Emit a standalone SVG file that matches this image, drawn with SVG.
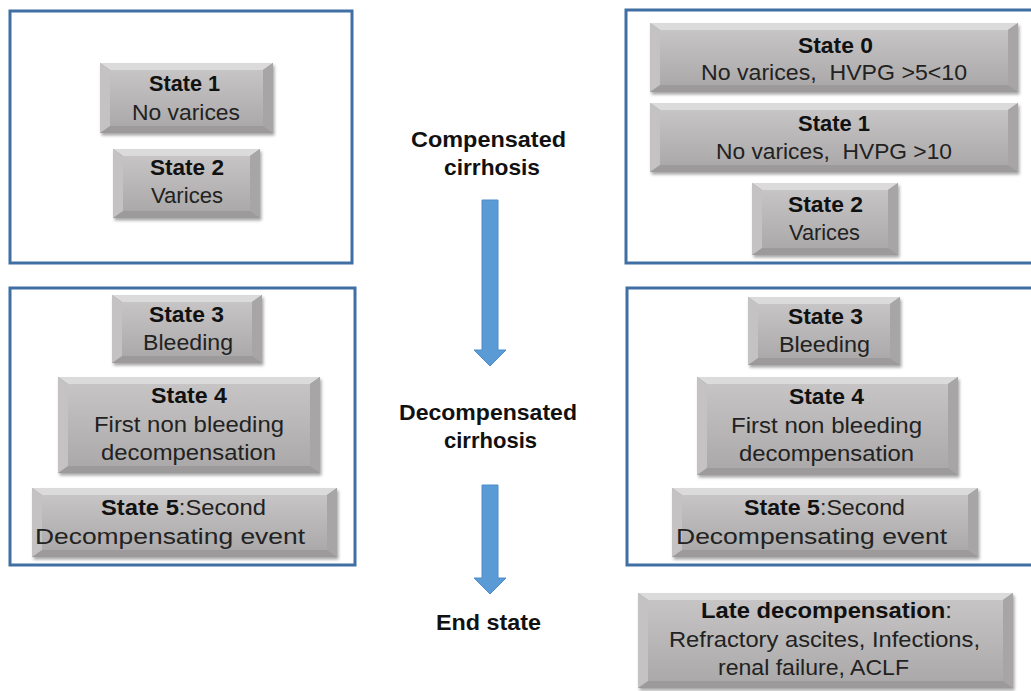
<svg xmlns="http://www.w3.org/2000/svg" width="1031" height="691" viewBox="0 0 1031 691">
<defs>
<linearGradient id="face" x1="0" y1="0" x2="0" y2="1">
<stop offset="0" stop-color="#c6c4c4"/>
<stop offset="1" stop-color="#aba9a9"/>
</linearGradient>
<filter id="sh" x="-10%" y="-20%" width="125%" height="150%">
<feDropShadow dx="1.5" dy="2.5" stdDeviation="1.8" flood-color="#000" flood-opacity="0.35"/>
</filter>
<style>
.frame{fill:none;stroke:#3f6fa3;stroke-width:3}
.base{fill:#9c9a9a}
.bt{fill:#dcdbdb}
.bl{fill:#c4c2c2}
.br{fill:#a7a5a5}
.face{fill:url(#face)}
text{font-family:"Liberation Sans",Arial,sans-serif;font-size:22px;fill:#222222}
.b{font-weight:bold;fill:#111111}
.lab{font-weight:bold;font-size:22px;fill:#111111}
.arrow{fill:#5b9bd5;stroke:#4f8ccb;stroke-width:1}
</style>
</defs>
<rect width="1031" height="691" fill="#ffffff"/>

<g id="frames">
<rect class="frame" x="10" y="11" width="342" height="252"/>
<rect class="frame" x="626" y="10" width="420" height="253"/>
<rect class="frame" x="10" y="288" width="345" height="277"/>
<rect class="frame" x="627" y="288" width="420" height="277"/>
</g>

<g id="connectors">
<polygon class="arrow" points="482,200 498,200 498,350 506,350 490,366 474,350 482,350"/>
<polygon class="arrow" points="482,485 498,485 498,578 506,578 490,594 474,578 482,578"/>
</g>

<g id="labels">
<text class="lab" x="411" y="147" textLength="155" lengthAdjust="spacingAndGlyphs">Compensated</text>
<text class="lab" x="444" y="175" textLength="96" lengthAdjust="spacingAndGlyphs">cirrhosis</text>
<text class="lab" x="399" y="420" textLength="178" lengthAdjust="spacingAndGlyphs">Decompensated</text>
<text class="lab" x="444" y="448" textLength="93" lengthAdjust="spacingAndGlyphs">cirrhosis</text>
<text class="lab" x="436" y="630" textLength="105" lengthAdjust="spacingAndGlyphs">End state</text>
</g>

<g id="L1">
<g filter="url(#sh)">
<rect class="base" x="100" y="63" width="173" height="70"/>
<polygon class="bt" points="100,63 273,63 263,70 110,70"/>
<polygon class="bl" points="100,63 110,70 110,126 100,133"/>
<polygon class="br" points="273,63 273,133 263,126 263,70"/>
<rect class="face" x="110" y="70" width="153" height="56"/>
</g>
<text class="b" x="149" y="91" textLength="71" lengthAdjust="spacingAndGlyphs">State 1</text>
<text x="132" y="120" textLength="108" lengthAdjust="spacingAndGlyphs">No varices</text>
</g>

<g id="L2">
<g filter="url(#sh)">
<rect class="base" x="113" y="149" width="147" height="69"/>
<polygon class="bt" points="113,149 260,149 250,156 123,156"/>
<polygon class="bl" points="113,149 123,156 123,211 113,218"/>
<polygon class="br" points="260,149 260,218 250,211 250,156"/>
<rect class="face" x="123" y="156" width="127" height="55"/>
</g>
<text class="b" x="150" y="175" textLength="74" lengthAdjust="spacingAndGlyphs">State 2</text>
<text x="151" y="203" textLength="72" lengthAdjust="spacingAndGlyphs">Varices</text>
</g>

<g id="R0">
<g filter="url(#sh)">
<rect class="base" x="650" y="23" width="368" height="69"/>
<polygon class="bt" points="650,23 1018,23 1008,30 660,30"/>
<polygon class="bl" points="650,23 660,30 660,85 650,92"/>
<polygon class="br" points="1018,23 1018,92 1008,85 1008,30"/>
<rect class="face" x="660" y="30" width="348" height="55"/>
</g>
<text class="b" x="798" y="53" textLength="75" lengthAdjust="spacingAndGlyphs">State 0</text>
<text x="701" y="80" textLength="266" lengthAdjust="spacingAndGlyphs">No varices,&#160; HVPG &gt;5&lt;10</text>
</g>

<g id="R1">
<g filter="url(#sh)">
<rect class="base" x="650" y="103" width="368" height="69"/>
<polygon class="bt" points="650,103 1018,103 1008,110 660,110"/>
<polygon class="bl" points="650,103 660,110 660,165 650,172"/>
<polygon class="br" points="1018,103 1018,172 1008,165 1008,110"/>
<rect class="face" x="660" y="110" width="348" height="55"/>
</g>
<text class="b" x="798" y="131" textLength="72" lengthAdjust="spacingAndGlyphs">State 1</text>
<text x="716" y="159" textLength="236" lengthAdjust="spacingAndGlyphs">No varices,&#160; HVPG &gt;10</text>
</g>

<g id="R2">
<g filter="url(#sh)">
<rect class="base" x="752" y="183" width="146" height="72"/>
<polygon class="bt" points="752,183 898,183 888,190 762,190"/>
<polygon class="bl" points="752,183 762,190 762,248 752,255"/>
<polygon class="br" points="898,183 898,255 888,248 888,190"/>
<rect class="face" x="762" y="190" width="126" height="58"/>
</g>
<text class="b" x="788" y="212" textLength="75" lengthAdjust="spacingAndGlyphs">State 2</text>
<text x="789" y="240" textLength="71" lengthAdjust="spacingAndGlyphs">Varices</text>
</g>

<g id="L3">
<g filter="url(#sh)">
<rect class="base" x="112" y="295" width="150" height="68"/>
<polygon class="bt" points="112,295 262,295 252,302 122,302"/>
<polygon class="bl" points="112,295 122,302 122,356 112,363"/>
<polygon class="br" points="262,295 262,363 252,356 252,302"/>
<rect class="face" x="122" y="302" width="130" height="54"/>
</g>
<text class="b" x="149" y="322" textLength="75" lengthAdjust="spacingAndGlyphs">State 3</text>
<text x="143" y="350" textLength="90" lengthAdjust="spacingAndGlyphs">Bleeding</text>
</g>

<g id="L4">
<g filter="url(#sh)">
<rect class="base" x="58" y="377" width="262" height="96"/>
<polygon class="bt" points="58,377 320,377 310,384 68,384"/>
<polygon class="bl" points="58,377 68,384 68,466 58,473"/>
<polygon class="br" points="320,377 320,473 310,466 310,384"/>
<rect class="face" x="68" y="384" width="242" height="82"/>
</g>
<text class="b" x="151" y="403" textLength="76" lengthAdjust="spacingAndGlyphs">State 4</text>
<text x="94" y="432" textLength="190" lengthAdjust="spacingAndGlyphs">First non bleeding</text>
<text x="101" y="460" textLength="175" lengthAdjust="spacingAndGlyphs">decompensation</text>
</g>

<g id="L5">
<g filter="url(#sh)">
<rect class="base" x="32" y="488" width="305" height="69"/>
<polygon class="bt" points="32,488 337,488 327,495 42,495"/>
<polygon class="bl" points="32,488 42,495 42,550 32,557"/>
<polygon class="br" points="337,488 337,557 327,550 327,495"/>
<rect class="face" x="42" y="495" width="285" height="55"/>
</g>
<text x="101" y="515" textLength="165" lengthAdjust="spacingAndGlyphs"><tspan class="b">State 5</tspan>:Second</text>
<text x="35" y="544" textLength="270" lengthAdjust="spacingAndGlyphs">Decompensating event</text>
</g>

<g id="R3">
<g filter="url(#sh)">
<rect class="base" x="748" y="297" width="152" height="68"/>
<polygon class="bt" points="748,297 900,297 890,304 758,304"/>
<polygon class="bl" points="748,297 758,304 758,358 748,365"/>
<polygon class="br" points="900,297 900,365 890,358 890,304"/>
<rect class="face" x="758" y="304" width="132" height="54"/>
</g>
<text class="b" x="788" y="324" textLength="75" lengthAdjust="spacingAndGlyphs">State 3</text>
<text x="779" y="352" textLength="91" lengthAdjust="spacingAndGlyphs">Bleeding</text>
</g>

<g id="R4">
<g filter="url(#sh)">
<rect class="base" x="697" y="377" width="261" height="98"/>
<polygon class="bt" points="697,377 958,377 948,384 707,384"/>
<polygon class="bl" points="697,377 707,384 707,468 697,475"/>
<polygon class="br" points="958,377 958,475 948,468 948,384"/>
<rect class="face" x="707" y="384" width="241" height="84"/>
</g>
<text class="b" x="789" y="404" textLength="75" lengthAdjust="spacingAndGlyphs">State 4</text>
<text x="731" y="433" textLength="191" lengthAdjust="spacingAndGlyphs">First non bleeding</text>
<text x="739" y="461" textLength="175" lengthAdjust="spacingAndGlyphs">decompensation</text>
</g>

<g id="R5">
<g filter="url(#sh)">
<rect class="base" x="672" y="488" width="306" height="69"/>
<polygon class="bt" points="672,488 978,488 968,495 682,495"/>
<polygon class="bl" points="672,488 682,495 682,550 672,557"/>
<polygon class="br" points="978,488 978,557 968,550 968,495"/>
<rect class="face" x="682" y="495" width="286" height="55"/>
</g>
<text x="744" y="515" textLength="161" lengthAdjust="spacingAndGlyphs"><tspan class="b">State 5</tspan>:Second</text>
<text x="676" y="544" textLength="271" lengthAdjust="spacingAndGlyphs">Decompensating event</text>
</g>

<g id="LATE">
<g filter="url(#sh)">
<rect class="base" x="638" y="593" width="375" height="95"/>
<polygon class="bt" points="638,593 1013,593 1003,600 648,600"/>
<polygon class="bl" points="638,593 648,600 648,681 638,688"/>
<polygon class="br" points="1013,593 1013,688 1003,681 1003,600"/>
<rect class="face" x="648" y="600" width="355" height="81"/>
</g>
<text x="701" y="618" textLength="251" lengthAdjust="spacingAndGlyphs"><tspan class="b">Late decompensation</tspan>:</text>
<text x="669" y="647" textLength="311" lengthAdjust="spacingAndGlyphs">Refractory ascites, Infections,</text>
<text x="718" y="675" textLength="191" lengthAdjust="spacingAndGlyphs">renal failure, ACLF</text>
</g>
</svg>
